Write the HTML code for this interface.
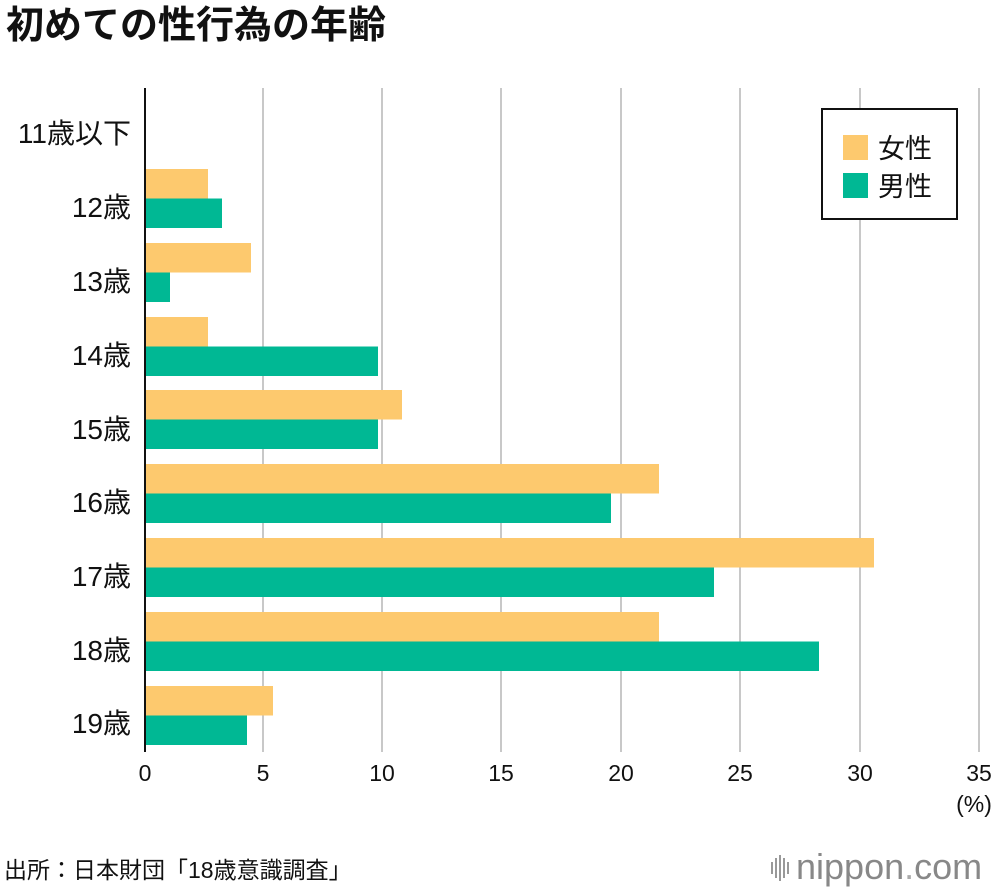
<!DOCTYPE html>
<html><head><meta charset="utf-8"><style>
body{margin:0;background:#fff;}
svg text{font-family:"Liberation Sans","Noto Sans CJK JP",sans-serif;}
</style></head><body>
<svg width="1000" height="890" viewBox="0 0 1000 890" xmlns="http://www.w3.org/2000/svg">
<text x="6" y="38" font-size="38" font-weight="bold" fill="#111">初めての性行為の年齢</text>
<g stroke="#c8c8c8" stroke-width="2">
<line x1="263" y1="88" x2="263" y2="752"/><line x1="382" y1="88" x2="382" y2="752"/>
<line x1="501" y1="88" x2="501" y2="752"/><line x1="621" y1="88" x2="621" y2="752"/>
<line x1="740" y1="88" x2="740" y2="752"/><line x1="860" y1="88" x2="860" y2="752"/>
<line x1="979" y1="88" x2="979" y2="752"/>
</g>
<g fill="#FDC96E">
<rect x="145" y="169" width="63" height="29.5"/>
<rect x="145" y="243" width="106" height="29.5"/>
<rect x="145" y="317" width="63" height="29.5"/>
<rect x="145" y="390" width="257" height="29.5"/>
<rect x="145" y="464" width="514" height="29.5"/>
<rect x="145" y="538" width="729" height="29.5"/>
<rect x="145" y="612" width="514" height="29.5"/>
<rect x="145" y="686" width="128" height="29.5"/>
</g>
<g fill="#00B894">
<rect x="145" y="198.5" width="77" height="29.5"/>
<rect x="145" y="272.5" width="25" height="29.5"/>
<rect x="145" y="346.5" width="233" height="29.5"/>
<rect x="145" y="419.5" width="233" height="29.5"/>
<rect x="145" y="493.5" width="466" height="29.5"/>
<rect x="145" y="567.5" width="569" height="29.5"/>
<rect x="145" y="641.5" width="674" height="29.5"/>
<rect x="145" y="715.5" width="102" height="29.5"/>
</g>
<line x1="145" y1="88" x2="145" y2="752" stroke="#111" stroke-width="2"/>
<g font-size="28" fill="#111" text-anchor="end">
<text x="131" y="143">11歳以下</text>
<text x="131" y="217">12歳</text>
<text x="131" y="291">13歳</text>
<text x="131" y="365">14歳</text>
<text x="131" y="439">15歳</text>
<text x="131" y="512">16歳</text>
<text x="131" y="586">17歳</text>
<text x="131" y="660">18歳</text>
<text x="131" y="733">19歳</text>
</g>
<g font-size="23" fill="#111" text-anchor="middle">
<text x="145" y="781">0</text><text x="263" y="781">5</text><text x="382" y="781">10</text>
<text x="501" y="781">15</text><text x="621" y="781">20</text><text x="740" y="781">25</text>
<text x="860" y="781">30</text><text x="979" y="781">35</text>
<text x="974" y="812">(%)</text>
</g>
<rect x="822" y="109" width="135" height="110" fill="#fff" stroke="#111" stroke-width="2"/>
<rect x="843" y="135" width="25" height="25" fill="#FDC96E"/>
<rect x="843" y="173" width="25" height="25" fill="#00B894"/>
<text x="878" y="158" font-size="27" fill="#111">女性</text>
<text x="878" y="196" font-size="27" fill="#111">男性</text>
<text x="4" y="878" font-size="23" fill="#111">出所：日本財団「18歳意識調査」</text>
<g fill="#999"><rect x="771" y="862" width="2" height="12"/><rect x="775" y="858" width="2" height="20"/><rect x="779" y="855" width="2" height="26"/><rect x="783" y="858" width="2" height="20"/><rect x="787" y="862" width="2" height="12"/></g>
<text x="796" y="879" font-size="36" fill="#888">nippon<tspan fill="#aaa">.</tspan>com</text>
</svg>
</body></html>
